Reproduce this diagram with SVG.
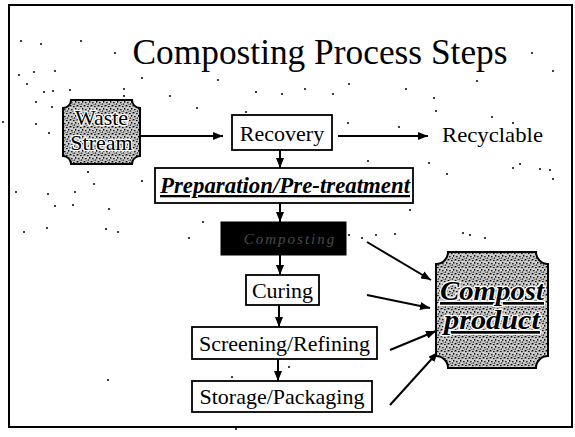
<svg xmlns="http://www.w3.org/2000/svg" width="575" height="437" viewBox="0 0 575 437" font-family="'Liberation Serif', serif">
<style>
  .box { fill: #fff; stroke: #000; stroke-width: 1.8; }
  .ln { stroke: #000; stroke-width: 2; fill: none; }
  .plaque { fill: url(#stip); stroke: #000; stroke-width: 2; }
  .halo { paint-order: stroke; stroke: #fff; stroke-width: 2.5; stroke-linejoin: round; }
  .dot { fill: #000; }
</style>
<defs>
  <marker id="ah" viewBox="0 0 10 8" refX="10" refY="4" markerWidth="10" markerHeight="8" markerUnits="userSpaceOnUse" orient="auto">
    <path d="M0,0 L10,4 L0,8 Z" fill="#000"/>
  </marker>
  <pattern id="stip" width="7" height="7" patternUnits="userSpaceOnUse">
    <rect width="7" height="7" fill="#c4c4c4"/>
    <rect x="0" y="0" width="1.4" height="1.4" fill="#000"/>
    <rect x="3" y="1" width="1.6" height="1.1" fill="#111"/>
    <rect x="5" y="3" width="1.3" height="1.6" fill="#000"/>
    <rect x="1" y="4" width="1.6" height="1.3" fill="#222"/>
    <rect x="4" y="5.5" width="1.1" height="1.1" fill="#000"/>
    <rect x="6" y="0.5" width="0.9" height="0.9" fill="#333"/>
    <rect x="2.5" y="6" width="0.9" height="0.9" fill="#333"/>
    <rect x="0.5" y="2.3" width="0.9" height="0.9" fill="#fff"/>
    <rect x="3.6" y="3.6" width="1" height="1" fill="#fff"/>
  </pattern>
</defs>

<rect x="9" y="5" width="563" height="422" fill="#fff" stroke="#000" stroke-width="2"/>

<text font-family="'Liberation Serif', serif" x="320" y="64" font-size="35" text-anchor="middle" textLength="375" lengthAdjust="spacingAndGlyphs">Composting Process Steps</text>

<g id="connectors">
  <line class="ln" x1="140" y1="136" x2="223" y2="136" marker-end="url(#ah)"/>
  <line class="ln" x1="338" y1="136" x2="428" y2="136" marker-end="url(#ah)"/>
  <line class="ln" x1="280" y1="150" x2="280" y2="168" marker-end="url(#ah)"/>
  <line class="ln" x1="280" y1="203" x2="280" y2="222" marker-end="url(#ah)"/>
  <line class="ln" x1="280" y1="255" x2="280" y2="275" marker-end="url(#ah)"/>
  <line class="ln" x1="279" y1="305" x2="279" y2="327" marker-end="url(#ah)"/>
  <line class="ln" x1="278" y1="359" x2="278" y2="381" marker-end="url(#ah)"/>
  <line class="ln" x1="367" y1="242" x2="431" y2="280" marker-end="url(#ah)"/>
  <line class="ln" x1="367" y1="295" x2="430" y2="308" marker-end="url(#ah)"/>
  <line class="ln" x1="390" y1="350" x2="436" y2="331" marker-end="url(#ah)"/>
  <line class="ln" x1="390" y1="405" x2="438" y2="352" marker-end="url(#ah)"/>
</g>

<g id="waste-stream">
  <path class="plaque" d="M71,100 H132 A8,8 0 0 0 140,108 V156 A8,8 0 0 0 132,164 H71 A8,8 0 0 0 63,156 V108 A8,8 0 0 0 71,100 Z"/>
  <text class="halo" font-family="'Liberation Serif', serif" x="101.5" y="125" font-size="22" text-anchor="middle">Waste</text>
  <text class="halo" font-family="'Liberation Serif', serif" x="101.5" y="150" font-size="22" text-anchor="middle">Stream</text>
</g>

<g id="recovery">
  <rect class="box" x="232" y="115" width="100" height="35"/>
  <text font-family="'Liberation Serif', serif" x="282" y="141" font-size="22" text-anchor="middle">Recovery</text>
</g>

<g id="recyclable">
  <text font-family="'Liberation Serif', serif" x="442" y="142" font-size="22" textLength="101" lengthAdjust="spacingAndGlyphs">Recyclable</text>
</g>

<g id="preparation">
  <rect class="box" x="155" y="168" width="258" height="35" stroke-width="2.2"/>
  <text font-family="'Liberation Serif', serif" x="160" y="193" font-size="23" font-weight="bold" font-style="italic" text-decoration="underline" textLength="250" lengthAdjust="spacingAndGlyphs">Preparation/Pre-treatment</text>
</g>

<g id="composting">
  <rect x="221" y="222" width="125" height="33" fill="#000" stroke="#000" stroke-width="1"/>
  <text font-family="'Liberation Serif', serif" x="290" y="244" font-size="15" font-style="italic" text-anchor="middle" fill="#4a4a4a" letter-spacing="2">Composting</text>
</g>

<g id="curing">
  <rect class="box" x="246" y="275" width="73" height="30"/>
  <text font-family="'Liberation Serif', serif" x="282.5" y="298" font-size="22" text-anchor="middle">Curing</text>
</g>

<g id="screening">
  <rect class="box" x="192" y="327" width="185" height="32"/>
  <text font-family="'Liberation Serif', serif" x="284.5" y="351" font-size="22" text-anchor="middle">Screening/Refining</text>
</g>

<g id="storage">
  <rect class="box" x="192" y="381" width="180" height="31"/>
  <text font-family="'Liberation Serif', serif" x="282" y="404" font-size="22" text-anchor="middle">Storage/Packaging</text>
</g>

<g id="compost-product">
  <path class="plaque" d="M448,252 H536 A12,12 0 0 0 548,264 V356 A12,12 0 0 0 536,368 H448 A12,12 0 0 0 436,356 V264 A12,12 0 0 0 448,252 Z"/>
  <text class="halo" font-family="'Liberation Serif', serif" x="492" y="300" font-size="27" font-weight="bold" font-style="italic" text-anchor="middle" text-decoration="underline" textLength="104" lengthAdjust="spacingAndGlyphs">Compost</text>
  <text class="halo" font-family="'Liberation Serif', serif" x="492" y="329" font-size="27" font-weight="bold" font-style="italic" text-anchor="middle" text-decoration="underline" textLength="96" lengthAdjust="spacingAndGlyphs">product</text>
</g>

<g id="speckles">
  <circle class="dot" cx="21" cy="41" r="1"/><circle class="dot" cx="41" cy="44" r="1"/><circle class="dot" cx="81" cy="41" r="1"/>
  <circle class="dot" cx="115" cy="53" r="1"/><circle class="dot" cx="19" cy="75" r="1"/><circle class="dot" cx="34" cy="72" r="1"/>
  <circle class="dot" cx="55" cy="71" r="1"/><circle class="dot" cx="27" cy="84" r="1"/><circle class="dot" cx="44" cy="92" r="1"/>
  <circle class="dot" cx="53" cy="91" r="1"/><circle class="dot" cx="70" cy="90" r="1"/><circle class="dot" cx="124" cy="89" r="1"/>
  <circle class="dot" cx="124" cy="96" r="1"/><circle class="dot" cx="142" cy="78" r="1"/><circle class="dot" cx="170" cy="96" r="1"/>
  <circle class="dot" cx="36" cy="102" r="1"/><circle class="dot" cx="52" cy="107" r="1"/><circle class="dot" cx="3" cy="122" r="1"/>
  <circle class="dot" cx="36" cy="124" r="1"/><circle class="dot" cx="49" cy="133" r="1"/><circle class="dot" cx="197" cy="108" r="1"/>
  <circle class="dot" cx="246" cy="112" r="1"/><circle class="dot" cx="218" cy="80" r="1"/><circle class="dot" cx="256" cy="92" r="1"/>
  <circle class="dot" cx="282" cy="94" r="1"/><circle class="dot" cx="305" cy="89" r="1"/><circle class="dot" cx="333" cy="94" r="1"/>
  <circle class="dot" cx="349" cy="84" r="1"/><circle class="dot" cx="406" cy="89" r="1"/><circle class="dot" cx="477" cy="81" r="1"/>
  <circle class="dot" cx="553" cy="71" r="1"/><circle class="dot" cx="532" cy="53" r="1"/><circle class="dot" cx="434" cy="98" r="1"/>
  <circle class="dot" cx="436" cy="111" r="1"/><circle class="dot" cx="492" cy="117" r="1"/><circle class="dot" cx="513" cy="123" r="1"/>
  <circle class="dot" cx="348" cy="123" r="1"/><circle class="dot" cx="399" cy="127" r="1"/><circle class="dot" cx="429" cy="163" r="1"/>
  <circle class="dot" cx="447" cy="174" r="1"/><circle class="dot" cx="513" cy="168" r="1"/><circle class="dot" cx="520" cy="164" r="1"/>
  <circle class="dot" cx="540" cy="169" r="1"/><circle class="dot" cx="550" cy="170" r="1"/><circle class="dot" cx="553" cy="179" r="1"/>
  <circle class="dot" cx="572" cy="186" r="1"/><circle class="dot" cx="368" cy="161" r="1"/><circle class="dot" cx="88" cy="172" r="1"/>
  <circle class="dot" cx="94" cy="184" r="1"/><circle class="dot" cx="16" cy="192" r="1"/><circle class="dot" cx="48" cy="194" r="1"/>
  <circle class="dot" cx="75" cy="192" r="1"/><circle class="dot" cx="55" cy="206" r="1"/><circle class="dot" cx="73" cy="205" r="1"/>
  <circle class="dot" cx="109" cy="209" r="1"/><circle class="dot" cx="142" cy="181" r="1"/><circle class="dot" cx="24" cy="232" r="1"/>
  <circle class="dot" cx="47" cy="228" r="1"/><circle class="dot" cx="106" cy="229" r="1"/><circle class="dot" cx="118" cy="232" r="1"/>
  <circle class="dot" cx="189" cy="238" r="1"/><circle class="dot" cx="203" cy="222" r="1"/><circle class="dot" cx="349" cy="235" r="1"/>
  <circle class="dot" cx="362" cy="238" r="1"/><circle class="dot" cx="376" cy="235" r="1"/><circle class="dot" cx="395" cy="234" r="1"/>
  <circle class="dot" cx="463" cy="233" r="1"/><circle class="dot" cx="470" cy="235" r="1"/><circle class="dot" cx="485" cy="238" r="1"/>
  <circle class="dot" cx="410" cy="210" r="1"/><circle class="dot" cx="108" cy="380" r="1"/><circle class="dot" cx="232" cy="377" r="1"/>
  <circle class="dot" cx="289" cy="367" r="1"/><circle class="dot" cx="236" cy="429" r="1"/>
</g>
</svg>
